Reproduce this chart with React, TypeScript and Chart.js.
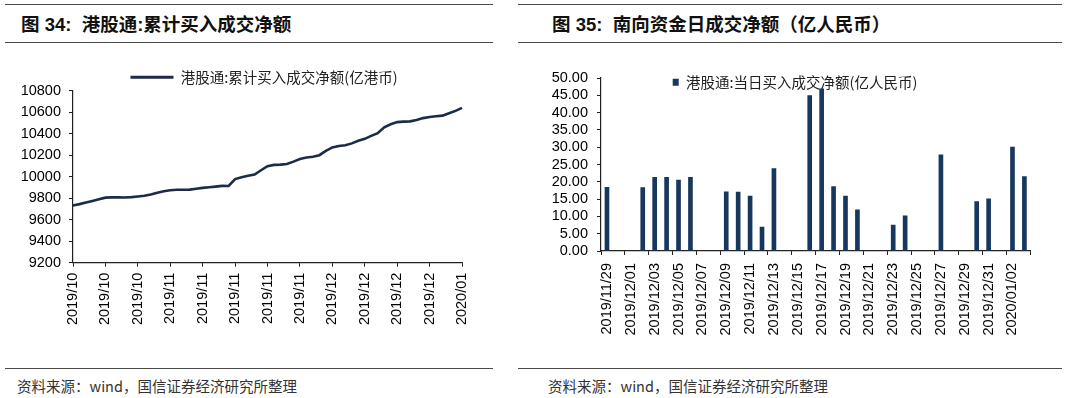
import React, { useEffect, useRef } from 'react';
import { Chart, registerables } from 'chart.js';

Chart.register(...registerables);

const LATIN = '"Liberation Sans", Arial, "Noto Sans CJK SC", sans-serif';
const CJK = '"Noto Sans CJK SC", "Liberation Sans", sans-serif';

// ---------- Figure 34: cumulative net buy (HKD 100m) ----------
const cumulativeTitle = '图 34:  港股通:累计买入成交净额';
const cumulativeSeriesName = '港股通:累计买入成交净额(亿港币)';
const cumulativeMonths = [
  '2019/10', '2019/10', '2019/10', '2019/10', '2019/10', '2019/10', '2019/10', '2019/10', '2019/10', '2019/10',
  '2019/10', '2019/10', '2019/10', '2019/11', '2019/11', '2019/11', '2019/11', '2019/11', '2019/11', '2019/11',
  '2019/11', '2019/11', '2019/11', '2019/11', '2019/11', '2019/11', '2019/11', '2019/11', '2019/11', '2019/11',
  '2019/11', '2019/11', '2019/11', '2019/11', '2019/11', '2019/11', '2019/11', '2019/11', '2019/12', '2019/12',
  '2019/12', '2019/12', '2019/12', '2019/12', '2019/12', '2019/12', '2019/12', '2019/12', '2019/12', '2019/12',
  '2019/12', '2019/12', '2019/12', '2019/12', '2019/12', '2019/12', '2019/12', '2019/12', '2020/01', '2020/01',
  '2020/01',
];
const cumulativeNetBuy = [
  9733, 9745, 9760, 9775, 9790, 9805, 9808, 9808, 9807, 9810,
  9816, 9822, 9835, 9850, 9864, 9874, 9878, 9878, 9880, 9888,
  9896, 9902, 9908, 9915, 9914, 9978, 9995, 10008, 10020, 10060,
  10098, 10110, 10112, 10118, 10140, 10165, 10178, 10185, 10200, 10240,
  10272, 10285, 10292, 10310, 10335, 10352, 10380, 10405, 10460, 10488,
  10508, 10512, 10515, 10528, 10545, 10555, 10562, 10568, 10590, 10612,
  10640,
];
const cumulativeYMin = 9200;
const cumulativeYMax = 10800;
const cumulativeYStep = 200;
const cumulativeLabelEvery = 5;

// ---------- Figure 35: daily southbound net buy (RMB 100m) ----------
const dailyTitle = '图 35:  南向资金日成交净额（亿人民币）';
const dailySeriesName = '港股通:当日买入成交净额(亿人民币)';
const dailyDates = [
  '2019/11/29', '2019/11/30', '2019/12/01', '2019/12/02', '2019/12/03', '2019/12/04',
  '2019/12/05', '2019/12/06', '2019/12/07', '2019/12/08', '2019/12/09', '2019/12/10',
  '2019/12/11', '2019/12/12', '2019/12/13', '2019/12/14', '2019/12/15', '2019/12/16',
  '2019/12/17', '2019/12/18', '2019/12/19', '2019/12/20', '2019/12/21', '2019/12/22',
  '2019/12/23', '2019/12/24', '2019/12/25', '2019/12/26', '2019/12/27', '2019/12/28',
  '2019/12/29', '2019/12/30', '2019/12/31', '2020/01/01', '2020/01/02', '2020/01/03',
];
const dailyNetBuy = [
  18.4, null, null, 18.3, 21.3, 21.3,
  20.5, 21.3, null, null, 17.1, 17.0,
  15.9, 6.9, 23.8, null, null, 44.9,
  46.9, 18.6, 15.9, 11.9, null, null,
  7.5, 10.2, null, null, 27.8, null,
  null, 14.3, 15.1, null, 30.0, 21.5,
];
const dailyYMin = 0;
const dailyYMax = 50;
const dailyYStep = 5;
const dailyLabelEvery = 2;

const sourceText = '资料来源：wind，国信证券经济研究所整理';

const LINE_COLOR = '#1c2b47';
const BAR_COLOR = '#17375e';
const AXIS_COLOR = '#222';
const RULE_COLOR = '#4a4a4a';

// Sets the legend's layout height, then shifts it sideways / enlarges its
// drawing box once the layout is done.
function legendPlacement(layoutHeight: number, dx: number, drawHeight: number) {
  return {
    id: 'legendPlacement',
    beforeInit(chart: any) {
      const lg = chart.legend;
      if (!lg) return;
      const orig = lg.fit;
      lg.fit = function () {
        orig.call(this);
        this.height = layoutHeight;
      };
    },
    afterLayout(chart: any) {
      const lg = chart.legend;
      if (!lg) return;
      lg.left += dx;
      lg.right += dx;
      lg.bottom = lg.top + drawHeight;
    },
  };
}

const tickFont = { family: LATIN, size: 14.5 };

export default function App() {
  const leftRef = useRef<HTMLCanvasElement>(null);
  const rightRef = useRef<HTMLCanvasElement>(null);

  useEffect(() => {
    const left = new Chart(leftRef.current as HTMLCanvasElement, {
      type: 'line',
      data: {
        labels: cumulativeMonths,
        datasets: [
          {
            label: cumulativeSeriesName,
            data: cumulativeNetBuy,
            borderColor: LINE_COLOR,
            backgroundColor: LINE_COLOR,
            borderWidth: 2.6,
            pointRadius: 0,
            tension: 0,
          },
        ],
      },
      options: {
        responsive: false,
        animation: false,
        events: [],
        layout: { padding: { left: 0, right: 38, top: 0, bottom: 0 } },
        plugins: {
          tooltip: { enabled: false },
          legend: {
            position: 'top',
            labels: {
              boxWidth: 43,
              boxHeight: 3,
              padding: 10,
              color: '#222',
              font: { family: CJK, size: 14.5 },
              generateLabels: (chart: any) =>
                Chart.defaults.plugins.legend.labels
                  .generateLabels(chart)
                  .map((l: any) => ({ ...l, lineWidth: 0, fillStyle: LINE_COLOR })),
            },
          },
        },
        scales: {
          x: {
            type: 'category',
            offset: false,
            grid: {
              drawOnChartArea: false,
              drawTicks: true,
              tickLength: 4,
              tickColor: (c: any) =>
                c.type === 'tick' && c.index % cumulativeLabelEvery === 0 ? AXIS_COLOR : 'rgba(0,0,0,0)',
            },
            border: { color: AXIS_COLOR, width: 1.2 },
            ticks: {
              autoSkip: false,
              minRotation: 90,
              maxRotation: 90,
              padding: 6,
              color: '#000',
              font: tickFont,
              callback: (_v: any, i: number) =>
                i % cumulativeLabelEvery === 0 ? cumulativeMonths[i] : '',
            },
            afterFit: (s: any) => {
              s.height = 97.3;
            },
          },
          y: {
            min: cumulativeYMin,
            max: cumulativeYMax,
            grid: { drawOnChartArea: false, drawTicks: true, tickLength: 4, tickColor: AXIS_COLOR },
            border: { color: AXIS_COLOR, width: 1.2 },
            ticks: {
              stepSize: cumulativeYStep,
              autoSkip: false,
              padding: 8,
              color: '#000',
              font: tickFont,
              callback: (v: any) => String(Math.round(Number(v))),
            },
            afterFit: (s: any) => {
              s.width = 73;
            },
          },
        },
      },
      plugins: [legendPlacement(30.7, 33, 30.7)],
    } as any);

    const right = new Chart(rightRef.current as HTMLCanvasElement, {
      type: 'bar',
      data: {
        labels: dailyDates,
        datasets: [
          {
            label: dailySeriesName,
            data: dailyNetBuy,
            backgroundColor: BAR_COLOR,
            borderWidth: 0,
            barThickness: 4,
          },
        ],
      },
      options: {
        responsive: false,
        animation: false,
        events: [],
        layout: { padding: { left: 0, right: 14, top: 0, bottom: 0 } },
        plugins: {
          tooltip: { enabled: false },
          legend: {
            position: 'top',
            labels: {
              boxWidth: 6,
              boxHeight: 7,
              padding: 15,
              color: '#222',
              font: { family: CJK, size: 14.5 },
            },
          },
        },
        scales: {
          x: {
            type: 'category',
            offset: true,
            grid: {
              offset: true,
              drawOnChartArea: false,
              drawTicks: true,
              tickLength: 4,
              tickColor: (c: any) =>
                c.type !== 'tick' || c.index % dailyLabelEvery === 0 ? AXIS_COLOR : 'rgba(0,0,0,0)',
            },
            border: { color: AXIS_COLOR, width: 1.2 },
            ticks: {
              autoSkip: false,
              minRotation: 90,
              maxRotation: 90,
              padding: 8,
              color: '#000',
              font: tickFont,
              callback: (_v: any, i: number) => (i % dailyLabelEvery === 0 ? dailyDates[i] : ''),
            },
            afterFit: (s: any) => {
              s.height = 109;
            },
          },
          y: {
            min: dailyYMin,
            max: dailyYMax,
            grid: { drawOnChartArea: false, drawTicks: true, tickLength: 4, tickColor: AXIS_COLOR },
            border: { color: AXIS_COLOR, width: 1.2 },
            ticks: {
              stepSize: dailyYStep,
              autoSkip: false,
              padding: 9,
              color: '#000',
              font: tickFont,
              callback: (v: any) => Number(v).toFixed(2),
            },
            afterFit: (s: any) => {
              s.width = 61;
            },
          },
        },
      },
      plugins: [legendPlacement(18, 7, 40)],
    } as any);

    return () => {
      left.destroy();
      right.destroy();
    };
  }, []);

  const rule = (left: number, top: number, width: number): React.CSSProperties => ({
    position: 'absolute',
    left,
    top,
    width,
    height: 1.4,
    background: RULE_COLOR,
  });
  const title: React.CSSProperties = {
    position: 'absolute',
    fontFamily: LATIN,
    fontWeight: 700,
    fontSize: 18.5,
    lineHeight: '22px',
    color: '#111',
    whiteSpace: 'pre',
  };
  const source: React.CSSProperties = {
    position: 'absolute',
    fontFamily: CJK,
    fontSize: 14.5,
    lineHeight: '18px',
    color: '#333',
    whiteSpace: 'pre',
  };

  return (
    <div
      style={{
        position: 'fixed',
        left: 0,
        top: 0,
        width: 1080,
        height: 398,
        background: '#fff',
        overflow: 'hidden',
      }}
    >
      <div style={rule(5, 4, 488)} />
      <div style={rule(5, 42, 488)} />
      <div style={rule(5, 368, 488)} />
      <div style={rule(518, 4, 544)} />
      <div style={rule(518, 42, 544)} />
      <div style={rule(518, 368, 544)} />

      <div style={{ ...title, left: 21, top: 14 }}>{cumulativeTitle}</div>
      <div style={{ ...title, left: 552, top: 14 }}>{dailyTitle}</div>

      <canvas
        ref={leftRef}
        width={500}
        height={300}
        style={{ position: 'absolute', left: 0, top: 60, width: 500, height: 300 }}
      />
      <canvas
        ref={rightRef}
        width={510}
        height={300}
        style={{ position: 'absolute', left: 540, top: 60, width: 510, height: 300 }}
      />

      <div style={{ ...source, left: 17, top: 377 }}>{sourceText}</div>
      <div style={{ ...source, left: 548, top: 377 }}>{sourceText}</div>
    </div>
  );
}
